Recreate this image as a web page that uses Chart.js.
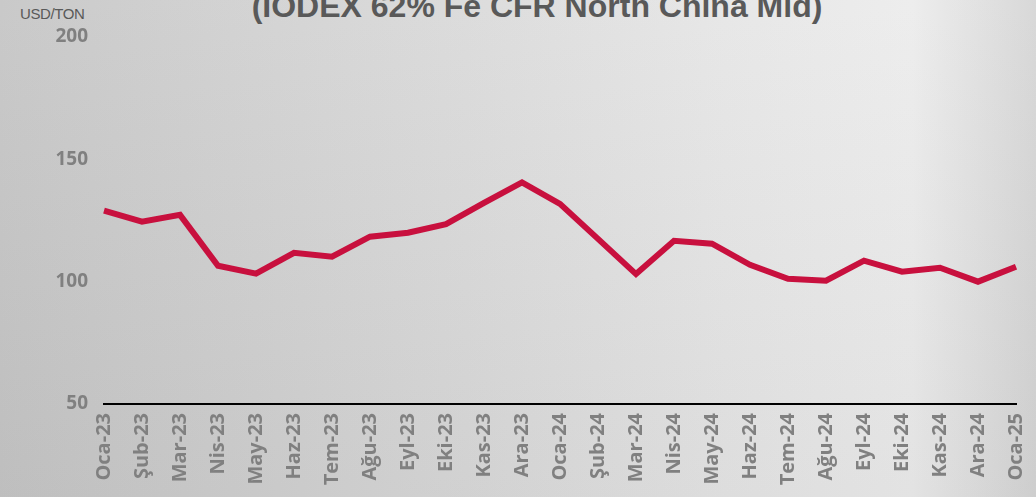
<!DOCTYPE html>
<html>
<head>
<meta charset="utf-8">
<script src="https://cdn.jsdelivr.net/npm/chart.js@4"></script>
<style>
  html, body { margin: 0; padding: 0; }
  body {
    width: 1036px; height: 497px; overflow: hidden; position: relative;
    background:
      linear-gradient(to bottom, rgba(255,255,255,0.06), rgba(0,0,0,0.04)),
      linear-gradient(to right, #c6c6c6 0%, #cfcfcf 20%, #dadada 45%, #e6e6e6 70%, #ececec 88%, #d6d6d6 100%);
  }
  #title {
    position: absolute; top: -10px; left: 19px; width: 1036px; text-align: center;
    font: bold 32px "Liberation Sans", Arial, sans-serif; line-height: 32px; color: #595959;
    white-space: nowrap;
  }
  #unit {
    position: absolute; top: 5px; left: 20px;
    font: 15px "Liberation Sans", Arial, sans-serif; color: #595959; letter-spacing: -0.4px;
  }
  #wrap { position: absolute; left: 0; top: 0; width: 1036px; height: 497px; }
</style>
</head>
<body>
<div id="title">(IODEX 62% Fe CFR North China Mid)</div>
<div id="unit">USD/TON</div>
<div id="wrap"><canvas id="priceChart" width="1036" height="497"></canvas></div>
<script>
const months = ['Oca-23', 'Şub-23', 'Mar-23', 'Nis-23', 'May-23', 'Haz-23', 'Tem-23', 'Ağu-23', 'Eyl-23', 'Eki-23', 'Kas-23', 'Ara-23',
  'Oca-24', 'Şub-24', 'Mar-24', 'Nis-24', 'May-24', 'Haz-24', 'Tem-24', 'Ağu-24', 'Eyl-24', 'Eki-24', 'Kas-24', 'Ara-24', 'Oca-25'];
const prices = [129, 124.5, 127.3, 106.5, 103.3, 111.8, 110.2, 118.4, 120, 123.5, 132.2, 140.6,
  131.8, 117.5, 103.1, 116.7, 115.5, 106.9, 101.2, 100.4, 108.6, 104.1, 105.7, 100, 106.1];
const yTicks = [50, 100, 150, 200];

const ctx = document.getElementById('priceChart').getContext('2d');

new Chart(ctx, {
  type: 'line',
  data: {
    labels: months,
    datasets: [{
      label: 'IODEX',
      data: prices,
      borderColor: '#c8103e',
      borderWidth: 6,
      pointRadius: 0,
      tension: 0,
      borderJoinStyle: 'miter',
      fill: false,
    }],
  },
  options: {
    responsive: false,
    animation: false,
    devicePixelRatio: 1,
    layout: { padding: { top: 37, right: 20, left: 0, bottom: 0 } },
    plugins: { legend: { display: false }, tooltip: { enabled: false } },
    scales: {
      x: {
        offset: false,
        grid: { display: false, drawTicks: false },
        border: { display: true, color: '#000000', width: 2 },
        ticks: {
          autoSkip: false,
          minRotation: 90,
          maxRotation: 90,
          padding: 9,
          color: '#808080',
          font: { family: '"Open Sans"', weight: 'bold', size: 20 },
        },
        afterFit: s => { s.height = 93; s.paddingRight = 0; s.paddingLeft = 0; },
      },
      y: {
        min: yTicks[0],
        max: yTicks[yTicks.length - 1],
        afterBuildTicks: s => { s.ticks = yTicks.map(v => ({ value: v })); },
        grid: { display: false, drawTicks: false },
        border: { display: false },
        ticks: {
          padding: 16,
          color: '#808080',
          font: { family: '"Open Sans"', weight: 'bold', size: 19 },
        },
        afterFit: s => { s.width = 104; },
      },
    },
  },
});
</script>
</body>
</html>
